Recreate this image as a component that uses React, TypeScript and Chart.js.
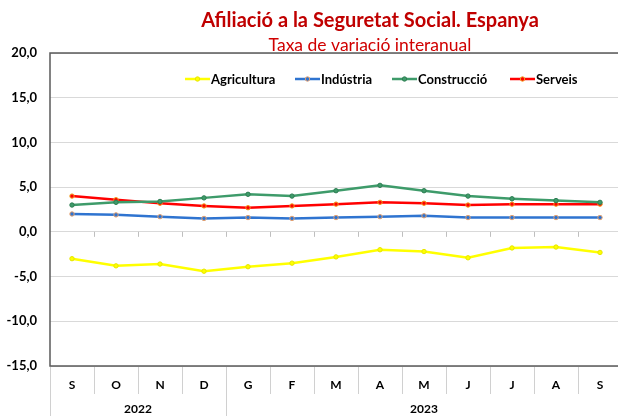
import React, { useEffect, useRef } from "react";
import { Chart, registerables } from "chart.js";

Chart.register(...registerables);

const months = ["S", "O", "N", "D", "G", "F", "M", "A", "M", "J", "J", "A", "S"];
const years = [
  { label: "2022", from: 0, to: 3 },
  { label: "2023", from: 4, to: 12 },
];
const agricultura = [-3.0, -3.8, -3.6, -4.4, -3.9, -3.5, -2.8, -2.0, -2.2, -2.9, -1.8, -1.7, -2.3];
const industria = [2.0, 1.9, 1.7, 1.5, 1.6, 1.5, 1.6, 1.7, 1.8, 1.6, 1.6, 1.6, 1.6];
const construccio = [3.0, 3.3, 3.4, 3.8, 4.2, 4.0, 4.6, 5.2, 4.6, 4.0, 3.7, 3.5, 3.3];
const serveis = [4.0, 3.6, 3.2, 2.9, 2.7, 2.9, 3.1, 3.3, 3.2, 3.0, 3.1, 3.1, 3.1];
const yMin = -15;
const yMax = 20;
const yStep = 5;
const title = "Afiliació a la Seguretat Social. Espanya";
const subtitle = "Taxa de variació interanual";

const seriesNames = ["Agricultura", "Indústria", "Construcció", "Serveis"];
const seriesColors = ["#FFFF00", "#2F74D0", "#3E9B6A", "#FF0000"];
const pointBorders = ["#E6E600", "#E8A06A", "#2E7D52", "#F0A020"];
const legendX = [185, 295, 392, 510];

const FONT = "Lato, 'Open Sans', sans-serif";

const decorPlugin = {
  id: "decor",
  beforeDatasetsDraw(chart: any) {
    const { ctx, chartArea, scales } = chart;
    const x = scales.x;
    const y = scales.y;
    const n = months.length;
    const half = (x.getPixelForValue(1) - x.getPixelForValue(0)) / 2;
    ctx.save();
    // small ticks on the zero line
    const y0 = y.getPixelForValue(0);
    ctx.strokeStyle = "#bfbfbf";
    ctx.lineWidth = 1;
    for (let i = 1; i < n; i++) {
      const bx = Math.round(x.getPixelForValue(i) - half) + 0.5;
      ctx.beginPath();
      ctx.moveTo(bx, y0);
      ctx.lineTo(bx, y0 + 5);
      ctx.stroke();
    }
    // frame
    ctx.strokeStyle = "#5a5a5a";
    ctx.lineWidth = 1.5;
    ctx.strokeRect(chartArea.left, chartArea.top, chartArea.right - chartArea.left, chartArea.bottom - chartArea.top);
    // separators under the axis
    ctx.strokeStyle = "#d0d0d0";
    ctx.lineWidth = 1;
    const yearStarts = years.map((yy) => yy.from);
    for (let i = 0; i <= n; i++) {
      const bx = Math.round(x.getPixelForValue(i) - half) + 0.5;
      const isYear = yearStarts.includes(i) || i === n;
      ctx.beginPath();
      ctx.moveTo(bx, chartArea.bottom + 1);
      ctx.lineTo(bx, isYear ? chart.height : chartArea.bottom + 28);
      ctx.stroke();
    }
    // year labels
    ctx.fillStyle = "#000";
    ctx.font = `bold 12px ${FONT}`;
    ctx.textAlign = "center";
    ctx.textBaseline = "middle";
    years.forEach((yy) => {
      const a = x.getPixelForValue(yy.from) - half;
      const b = x.getPixelForValue(yy.to) + half;
      ctx.fillText(yy.label, (a + b) / 2, 409);
    });
    // titles
    ctx.fillStyle = "#C00000";
    ctx.font = `bold 20px ${FONT}`;
    ctx.fillText(title, 370, 21);
    ctx.font = `17.5px ${FONT}`;
    ctx.fillStyle = "#D00000";
    ctx.fillText(subtitle, 370, 45);
    // legend
    ctx.textAlign = "left";
    ctx.font = `bold 13px ${FONT}`;
    const ly = 79;
    seriesNames.forEach((name, i) => {
      const lx = legendX[i];
      ctx.strokeStyle = seriesColors[i];
      ctx.lineWidth = 2.5;
      ctx.beginPath();
      ctx.moveTo(lx, ly);
      ctx.lineTo(lx + 25, ly);
      ctx.stroke();
      ctx.fillStyle = seriesColors[i];
      ctx.strokeStyle = pointBorders[i];
      ctx.lineWidth = 1;
      ctx.beginPath();
      ctx.arc(lx + 12.5, ly, 2.2, 0, Math.PI * 2);
      ctx.fill();
      ctx.stroke();
      ctx.fillStyle = "#000";
      ctx.fillText(name, lx + 26, ly + 0.5);
    });
    ctx.restore();
  },
};

export default function App() {
  const ref = useRef<HTMLCanvasElement | null>(null);
  useEffect(() => {
    if (!ref.current) return;
    const datasets = [agricultura, industria, construccio, serveis].map((d, i) => ({
      label: seriesNames[i],
      data: d,
      borderColor: seriesColors[i],
      backgroundColor: seriesColors[i],
      pointBackgroundColor: seriesColors[i],
      pointBorderColor: pointBorders[i],
      pointBorderWidth: 1,
      pointRadius: 2.2,
      borderWidth: 2.5,
      tension: 0,
      fill: false,
    }));
    const chart = new Chart(ref.current, {
      type: "line",
      data: { labels: months, datasets },
      options: {
        responsive: false,
        animation: false,
        layout: { padding: { top: 53, right: 18, left: 0, bottom: 0 } },
        plugins: { legend: { display: false }, tooltip: { enabled: false }, title: { display: false } },
        scales: {
          x: {
            type: "category",
            offset: true,
            grid: { display: false, drawTicks: false },
            border: { display: false },
            ticks: {
              color: "#000",
              font: { family: FONT, size: 12, weight: "bold" },
              padding: 12,
              maxRotation: 0,
              autoSkip: false,
            },
            afterFit(scale: any) {
              scale.height = 50;
            },
          },
          y: {
            min: yMin,
            max: yMax,
            grid: { color: "#d9d9d9", lineWidth: 1, drawTicks: false },
            border: { display: false },
            ticks: {
              stepSize: yStep,
              color: "#000",
              padding: 13,
              font: { family: FONT, size: 13, weight: "bold" },
              callback: (v: any) => Number(v).toFixed(1).replace(".", ","),
            },
            afterFit(scale: any) {
              scale.width = 50;
            },
          },
        },
      },
      plugins: [decorPlugin],
    });
    return () => chart.destroy();
  }, []);
  return (
    <div style={{ position: "fixed", left: 0, top: 0, width: 618, height: 416, overflow: "hidden", background: "#fff" }}>
      <canvas ref={ref} width={640} height={416} style={{ width: 640, height: 416, display: "block" }} />
    </div>
  );
}
